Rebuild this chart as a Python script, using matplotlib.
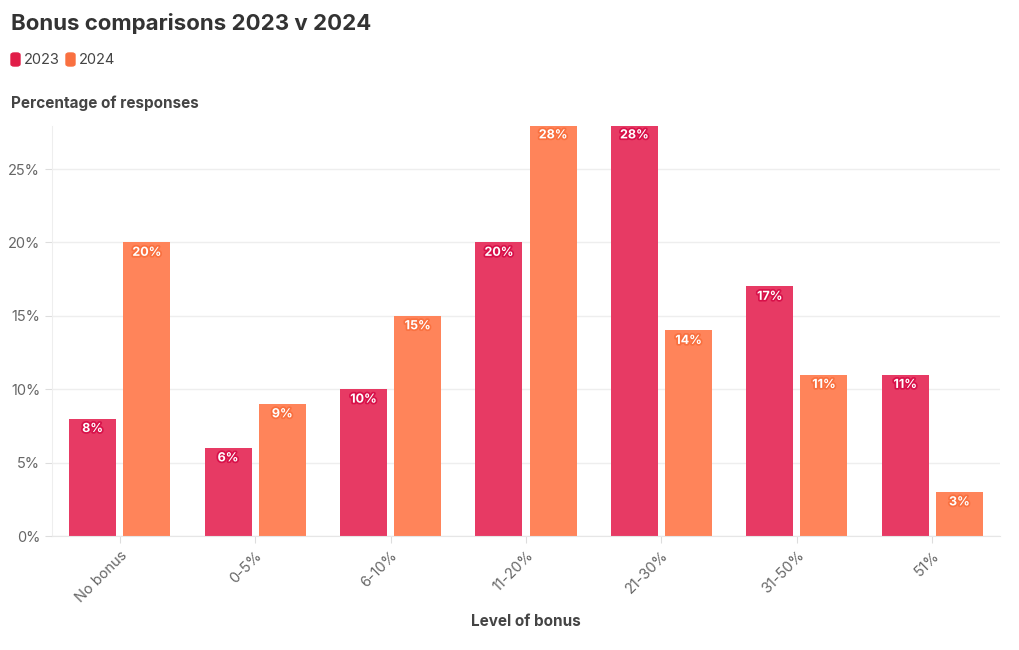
import numpy as np
import matplotlib
matplotlib.use("Agg")
import matplotlib.pyplot as plt
import matplotlib.patheffects as pe
from matplotlib.patches import FancyBboxPatch

plt.rcParams['font.family'] = ['Inter', 'DejaVu Sans']

categories = ['No bonus', '0-5%', '6-10%', '11-20%', '21-30%', '31-50%', '51%']
years = ['2023', '2024']
values_2023 = [8, 6, 10, 20, 28, 17, 11]
values_2024 = [20, 9, 15, 28, 14, 11, 3]
y_ticks = [0, 5, 10, 15, 20, 25]

bar_colors = ['#E73A64', '#FF845A']
label_bg = ['#D8114A', '#F9703F']
legend_colors = ['#E11D48', '#F97040']

fig = plt.figure(figsize=(10.2, 6.5), dpi=100)
ax = fig.add_axes([52 / 1020, 114 / 650, 948 / 1020, 410 / 650])

x = np.arange(len(categories))
w = 0.347
for vals, off, col, bg in [(values_2023, -0.2, bar_colors[0], label_bg[0]),
                           (values_2024, 0.2, bar_colors[1], label_bg[1])]:
    bars = ax.bar(x + off, vals, width=w, color=col, zorder=2)
    for b, v in zip(bars, vals):
        ax.annotate(f'{v}%', (b.get_x() + b.get_width() / 2, v),
                    xytext=(0, -7.5), textcoords='offset points',
                    ha='center', va='center', fontsize=9, fontweight='bold',
                    color='white', zorder=3, annotation_clip=False,
                    path_effects=[pe.withStroke(linewidth=2.5, foreground=bg)])

ax.set_xlim(-0.5, len(categories) - 0.5)
ax.set_ylim(0, 27.93)
ax.set_yticks(y_ticks)
ax.set_yticklabels([f'{t}%' for t in y_ticks])
ax.set_xticks(x)
ax.set_xticklabels(categories, rotation=45, ha='right', rotation_mode='anchor')
ax.grid(axis='y', color='#EEEEEE', linewidth=1, zorder=0)
for s in ['top', 'right']:
    ax.spines[s].set_visible(False)
ax.spines['left'].set_color('#EEEEEE')
ax.spines['bottom'].set_color('#E6E6E6')
ax.tick_params(axis='both', colors='#DDDDDD', labelcolor='#666666',
               labelsize=10.5, length=5)
ax.tick_params(axis='x', pad=4)

ax.set_xlabel('Level of bonus', fontsize=11, fontweight='bold', color='#444444',
              labelpad=6)

fig.text(11 / 1020, 1 - 24 / 650, 'Bonus comparisons 2023 v 2024', fontsize=16,
         fontweight='bold', color='#333333', va='center')
fig.text(11 / 1020, 1 - 103 / 650, 'Percentage of responses', fontsize=11,
         fontweight='bold', color='#444444', va='center')

# legend
lx = 11
for yr, col in zip(years, legend_colors):
    fig.patches.append(FancyBboxPatch((lx / 1020, 1 - 66 / 650), 9 / 1020, 13 / 650,
                                      boxstyle='round,pad=0,rounding_size=0.003',
                                      transform=fig.transFigure, color=col))
    fig.text((lx + 13) / 1020, 1 - 60 / 650, yr, fontsize=10.5, color='#444444',
             va='center')
    lx += 55

fig.savefig('out.png', dpi=100)
